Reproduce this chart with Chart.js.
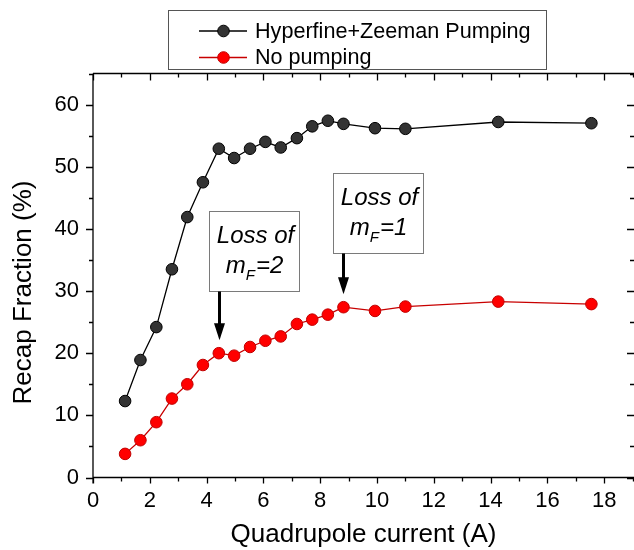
<!DOCTYPE html>
<html><head><meta charset="utf-8">
<script src="https://cdn.jsdelivr.net/npm/chart.js@4.4.1/dist/chart.umd.min.js"></script>
<style>html,body{margin:0;padding:0;background:#fff;overflow:hidden;}#wrap{width:634px;height:550px;}</style>
</head><body><div id="wrap"><canvas id="c" width="634" height="550"></canvas></div>
<script>
// ---- data ----
const currents  = [1.13, 1.67, 2.23, 2.78, 3.32, 3.87, 4.43, 4.97, 5.53, 6.07, 6.61, 7.18, 7.72, 8.27, 8.82, 9.93, 11.0, 14.27, 17.55];
const pumped    = [12.3, 18.9, 24.2, 33.5, 41.9, 47.5, 52.9, 51.4, 52.9, 54.0, 53.1, 54.6, 56.5, 57.4, 56.9, 56.2, 56.1, 57.2, 57.0];
const unpumped  = [3.8, 6.0, 8.9, 12.7, 15.0, 18.1, 20.0, 19.6, 21.0, 22.0, 22.7, 24.7, 25.4, 26.2, 27.4, 26.8, 27.5, 28.3, 27.9];
const seriesNames = ['Hyperfine+Zeeman Pumping', 'No pumping'];
const xTickLabels = ['0','2','4','6','8','10','12','14','16','18'];
const yTickLabels = ['0','10','20','30','40','50','60'];
const xTitle = 'Quadrupole current (A)';
const yTitle = 'Recap Fraction (%)';
const notes = [
  {x: 4.43, y: 20.0, boxBottom: 30.0, line1: 'Loss of', main: 'm', sub: 'F', tail: '=2'},
  {x: 8.82, y: 27.4, boxBottom: 36.1, line1: 'Loss of', main: 'm', sub: 'F', tail: '=1'}
];

const FAM = "Arial, 'Liberation Sans', sans-serif";

const framePlugin = {
  id: 'frame',
  beforeDatasetsDraw(chart) {
    const {ctx, chartArea: {left, right, top, bottom}} = chart;
    const xs = chart.scales.x, ys = chart.scales.y;
    ctx.save();
    ctx.strokeStyle = '#000';
    ctx.lineWidth = 1.3;
    ctx.beginPath();
    ctx.moveTo(left, top); ctx.lineTo(right, top);
    ctx.moveTo(left, bottom); ctx.lineTo(right, bottom);
    ctx.moveTo(left, top); ctx.lineTo(left, bottom + 6);
    for (let v = 0; v <= Math.floor(xs.max); v++) {
      const px = Math.round(xs.getPixelForValue(v)) + 0.5;
      const major = v % 2 === 0;
      ctx.moveTo(px, bottom); ctx.lineTo(px, bottom + (major ? 6 : 4));
      ctx.moveTo(px, top); ctx.lineTo(px, top + (major ? 7 : 4));
    }
    for (let v = 0; v <= ys.max; v += 5) {
      const py = Math.round(ys.getPixelForValue(v)) + 0.5;
      const major = v % 10 === 0;
      ctx.moveTo(left - (major ? 7 : 4), py); ctx.lineTo(left, py);
      ctx.moveTo(right - (major ? 7 : 4), py); ctx.lineTo(right, py);
    }
    ctx.stroke();
    ctx.restore();
  }
};

const notesPlugin = {
  id: 'notes',
  afterDatasetsDraw(chart) {
    const {ctx} = chart;
    const xs = chart.scales.x, ys = chart.scales.y;
    ctx.save();
    notes.forEach(n => {
      const px = Math.round(xs.getPixelForValue(n.x)) + 0.5;
      const tip = ys.getPixelForValue(n.y) - 13;
      const bb = Math.round(ys.getPixelForValue(n.boxBottom)) + 0.5;
      const w = 90, h = 80;
      const bl = px - 10, bt = bb - h;
      ctx.fillStyle = '#fff';
      ctx.fillRect(bl, bt, w, h);
      ctx.strokeStyle = '#7a7a7a';
      ctx.lineWidth = 1;
      ctx.strokeRect(bl, bt, w, h);
      ctx.fillStyle = '#000';
      ctx.textBaseline = 'alphabetic';
      ctx.font = 'italic 24px ' + FAM;
      ctx.textAlign = 'center';
      ctx.fillText(n.line1, bl + w / 2 + 1, bt + 31);
      ctx.textAlign = 'left';
      const wm = ctx.measureText(n.main).width;
      const wt = ctx.measureText(n.tail).width;
      ctx.font = 'italic 15px ' + FAM;
      const ws = ctx.measureText(n.sub).width;
      const total = wm + ws + wt + 1;
      let cx = bl + w / 2 - total / 2;
      ctx.font = 'italic 24px ' + FAM;
      ctx.fillText(n.main, cx, bt + 61);
      cx += wm;
      ctx.font = 'italic 15px ' + FAM;
      ctx.fillText(n.sub, cx, bt + 68);
      cx += ws + 1;
      ctx.font = 'italic 24px ' + FAM;
      ctx.fillText(n.tail, cx, bt + 61);
      ctx.strokeStyle = '#000';
      ctx.lineWidth = 3;
      ctx.beginPath();
      ctx.moveTo(px, bb); ctx.lineTo(px, tip - 14);
      ctx.stroke();
      ctx.beginPath();
      ctx.moveTo(px - 5.5, tip - 17);
      ctx.lineTo(px + 5.5, tip - 17);
      ctx.lineTo(px, tip);
      ctx.closePath();
      ctx.fillStyle = '#000';
      ctx.fill();
    });
    ctx.restore();
  }
};

const legendPlugin = {
  id: 'boxLegend',
  afterDraw(chart) {
    const {ctx} = chart;
    ctx.save();
    ctx.strokeStyle = '#555';
    ctx.lineWidth = 1;
    ctx.strokeRect(168.5, 10.5, 378, 59);
    chart.data.datasets.forEach((ds, i) => {
      const cy = 31 + i * 26.5;
      ctx.strokeStyle = ds.borderColor;
      ctx.lineWidth = 1.5;
      ctx.beginPath(); ctx.moveTo(199, cy); ctx.lineTo(247, cy); ctx.stroke();
      ctx.beginPath(); ctx.arc(223.5, cy, 5.8, 0, Math.PI * 2);
      ctx.fillStyle = ds.pointBackgroundColor; ctx.fill();
      ctx.strokeStyle = ds.pointBorderColor; ctx.lineWidth = 1; ctx.stroke();
      ctx.fillStyle = '#000';
      ctx.font = '21.6px ' + FAM;
      ctx.textAlign = 'left';
      ctx.textBaseline = 'middle';
      ctx.fillText(ds.label, 255, cy + 1);
    });
    ctx.save();
    ctx.translate(24, 292.5);
    ctx.rotate(-Math.PI / 2);
    ctx.font = '26px ' + FAM;
    ctx.fillStyle = '#000';
    ctx.textAlign = 'center';
    ctx.textBaseline = 'middle';
    ctx.fillText(yTitle, 0, 0);
    ctx.restore();
    ctx.restore();
  }
};

new Chart(document.getElementById('c'), {
  type: 'scatter',
  data: {
    datasets: [
      {
        label: seriesNames[0],
        data: currents.map((x, i) => ({x, y: pumped[i]})),
        showLine: true,
        borderColor: '#000',
        borderWidth: 1.3,
        pointBackgroundColor: '#333333',
        pointBorderColor: '#000',
        pointBorderWidth: 1,
        pointRadius: 5.8
      },
      {
        label: seriesNames[1],
        data: currents.map((x, i) => ({x, y: unpumped[i]})),
        showLine: true,
        borderColor: '#c80000',
        borderWidth: 1.3,
        pointBackgroundColor: '#ff0000',
        pointBorderColor: '#c00000',
        pointBorderWidth: 1,
        pointRadius: 5.8
      }
    ]
  },
  options: {
    responsive: false,
    animation: false,
    devicePixelRatio: 1,
    layout: {autoPadding: false, padding: {top: 73.5, left: 0, right: 0, bottom: 0}},
    plugins: {legend: {display: false}, tooltip: {enabled: false}},
    scales: {
      x: {
        type: 'linear', min: 0, max: 19.05,
        grid: {display: false, drawTicks: false},
        border: {display: false},
        ticks: {
          stepSize: 1, autoSkip: false, maxRotation: 0,
          padding: 10, color: '#000', font: {size: 22, family: FAM},
          callback: v => xTickLabels.includes(String(v)) ? String(v) : ''
        },
        title: {display: true, text: xTitle, color: '#000', font: {size: 26, family: FAM}, padding: {top: 0, bottom: 0}},
        afterFit: s => { s.height = 72.5; s.paddingLeft = 0; s.paddingRight = 0; }
      },
      y: {
        type: 'linear', min: 0, max: 65,
        grid: {display: false, drawTicks: false},
        border: {display: false},
        ticks: {
          stepSize: 5, autoSkip: false, padding: 14, color: '#000', font: {size: 22, family: FAM},
          callback: v => yTickLabels.includes(String(v)) ? String(v) : ''
        },
        afterFit: s => { s.width = 93; s.paddingTop = 0; s.paddingBottom = 0; }
      }
    }
  },
  plugins: [framePlugin, notesPlugin, legendPlugin]
});
</script>
</body></html>
